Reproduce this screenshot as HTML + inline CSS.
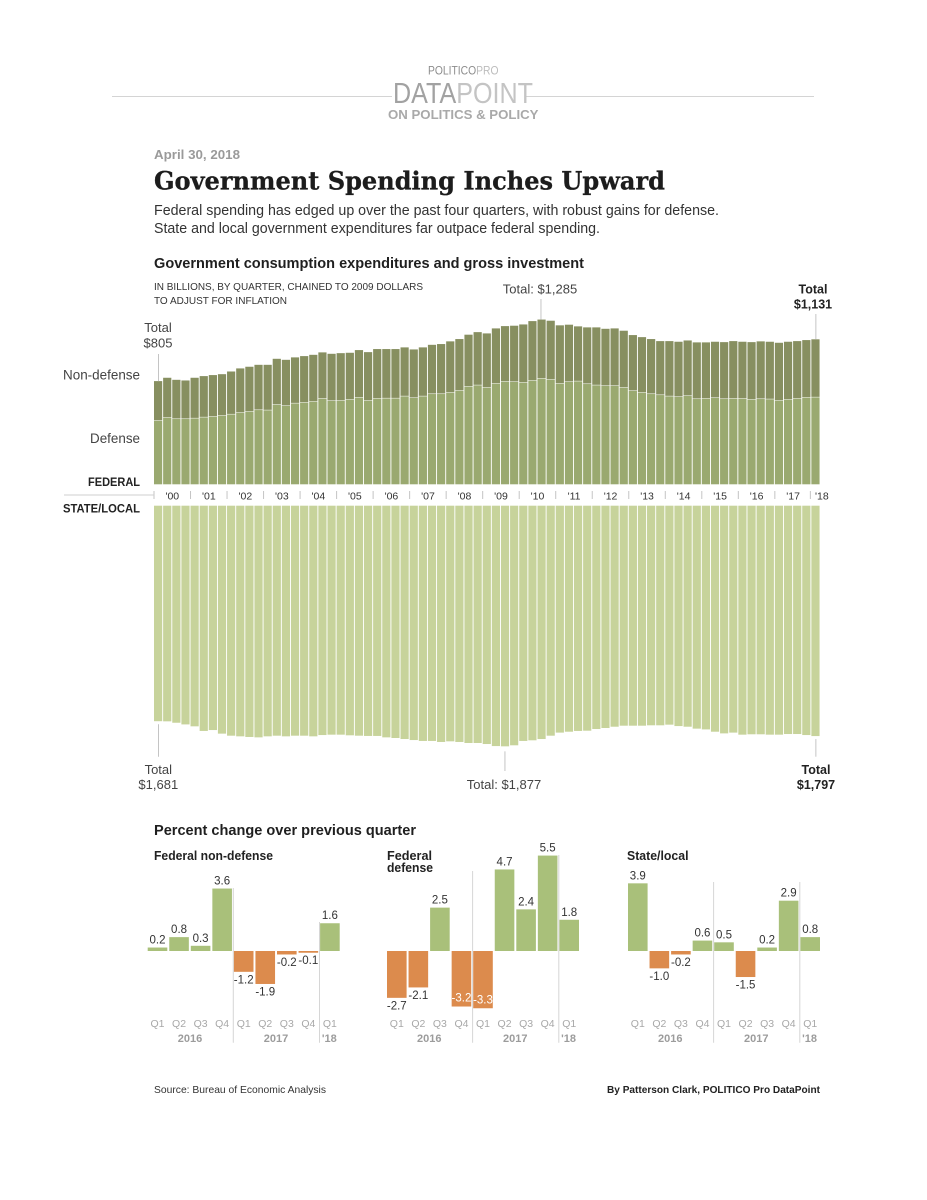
<!DOCTYPE html>
<html lang="en">
<head>
<meta charset="utf-8">
<title>Government Spending Inches Upward</title>
<style>
html,body{margin:0;padding:0;background:#fff;}
svg{display:block;font-family:"Liberation Sans",sans-serif;}
</style>
</head>
<body>
<svg id="page" width="927" height="1200" viewBox="0 0 927 1200" xmlns="http://www.w3.org/2000/svg">
  <rect width="927" height="1200" fill="#fff"/>
  <line x1="112" x2="392" y1="96.5" y2="96.5" stroke="#d4d4d4" stroke-width="1"/>
  <line x1="526" x2="814" y1="96.5" y2="96.5" stroke="#d4d4d4" stroke-width="1"/>
  <text x="428" y="74.5" font-size="12" fill="#8c8c8c" textLength="70.5" lengthAdjust="spacingAndGlyphs">POLITICO<tspan fill="#bcbcbc">PRO</tspan></text>
  <text x="393" y="103" font-size="29" fill="#a2a2a2" textLength="140" lengthAdjust="spacingAndGlyphs">DATA<tspan fill="#c4c4c4">POINT</tspan></text>
  <text x="388" y="119" font-size="12.5" font-weight="bold" fill="#a9a9a9" textLength="150.5" lengthAdjust="spacingAndGlyphs">ON POLITICS &amp; POLICY</text>
  <text x="154" y="159" font-size="13" font-weight="bold" fill="#9a9a9a" textLength="86" lengthAdjust="spacingAndGlyphs">April 30, 2018</text>
  <text x="154" y="189.5" font-family="'DejaVu Serif',serif" font-size="25" font-weight="bold" fill="#1c1c1c" stroke="#1c1c1c" stroke-width="0.3" textLength="511" lengthAdjust="spacingAndGlyphs">Government Spending Inches Upward</text>
  <text x="154" y="215" font-size="14.5" fill="#333" textLength="565" lengthAdjust="spacingAndGlyphs">Federal spending has edged up over the past four quarters, with robust gains for defense.</text>
  <text x="154" y="233" font-size="14.5" fill="#333" textLength="446" lengthAdjust="spacingAndGlyphs">State and local government expenditures far outpace federal spending.</text>
  <text x="154" y="268" font-size="14.5" font-weight="bold" fill="#1f1f1f" textLength="430" lengthAdjust="spacingAndGlyphs">Government consumption expenditures and gross investment</text>
  <text x="154" y="290" font-size="10.5" fill="#333" textLength="269" lengthAdjust="spacingAndGlyphs">IN BILLIONS, BY QUARTER, CHAINED TO 2009 DOLLARS</text>
  <text x="154" y="304" font-size="10.5" fill="#333" textLength="133" lengthAdjust="spacingAndGlyphs">TO ADJUST FOR INFLATION</text>

  <g id="federal-bars"></g>
  <g id="state-bars"></g>
  <g id="year-axis"></g>

  <text x="140" y="379.5" text-anchor="end" font-size="14" fill="#444" textLength="77" lengthAdjust="spacingAndGlyphs">Non-defense</text>
  <text x="140" y="443" text-anchor="end" font-size="14" fill="#444" textLength="50" lengthAdjust="spacingAndGlyphs">Defense</text>
  <text x="140" y="486" text-anchor="end" font-size="11.5" font-weight="bold" fill="#222" textLength="52" lengthAdjust="spacingAndGlyphs">FEDERAL</text>
  <text x="140" y="512.5" text-anchor="end" font-size="11.5" font-weight="bold" fill="#222" textLength="77" lengthAdjust="spacingAndGlyphs">STATE/LOCAL</text>
  <line x1="64" x2="154" y1="495" y2="495" stroke="#cfcfcf" stroke-width="1"/>

  <g id="callouts" font-size="13" fill="#444" text-anchor="middle"></g>

  <text x="154" y="835" font-size="14.5" font-weight="bold" fill="#1f1f1f" textLength="262" lengthAdjust="spacingAndGlyphs">Percent change over previous quarter</text>
  <text x="154" y="860" font-size="12.5" font-weight="bold" fill="#222" textLength="119" lengthAdjust="spacingAndGlyphs">Federal non-defense</text>
  <text x="387" y="860" font-size="12.5" font-weight="bold" fill="#222" textLength="45" lengthAdjust="spacingAndGlyphs">Federal</text>
  <text x="387" y="872" font-size="12.5" font-weight="bold" fill="#222" textLength="46" lengthAdjust="spacingAndGlyphs">defense</text>
  <text x="627" y="860" font-size="12.5" font-weight="bold" fill="#222" textLength="61.5" lengthAdjust="spacingAndGlyphs">State/local</text>

  <g id="change-charts"></g>

  <text x="154" y="1093" font-size="10.5" fill="#333" textLength="172" lengthAdjust="spacingAndGlyphs">Source: Bureau of Economic Analysis</text>
  <text x="820" y="1093" text-anchor="end" font-size="10.5" font-weight="bold" fill="#222" textLength="213" lengthAdjust="spacingAndGlyphs">By Patterson Clark, POLITICO Pro DataPoint</text>
</svg>

<script>
// Main chart data: $ billions, quarterly, 2000 Q1 through 2018 Q1
const federalTotal = [805,831,815,810,831,844,852,859,880,904,917,932,932,979,971,990,1000,1010,1029,1018,1023,1026,1047,1031,1055,1055,1055,1068,1052,1068,1088,1094,1115,1133,1167,1187,1177,1216,1234,1237,1247,1273,1285,1276,1240,1245,1232,1224,1224,1213,1216,1198,1164,1148,1133,1117,1117,1112,1122,1107,1107,1112,1109,1117,1112,1109,1115,1112,1104,1112,1117,1125,1131];
const federalDefense = [500,523,513,513,518,526,531,539,549,562,570,583,581,625,615,635,641,648,672,654,656,664,680,656,672,674,674,690,677,690,708,708,719,734,766,776,758,789,805,802,797,812,828,820,789,802,807,786,776,771,771,758,732,719,708,700,690,685,693,669,672,677,669,672,672,664,669,667,656,664,672,680,682];
const stateLocal = [1681,1682,1693,1706,1721,1757,1750,1778,1794,1799,1804,1807,1799,1794,1799,1794,1794,1799,1789,1786,1786,1791,1794,1796,1796,1807,1812,1820,1828,1835,1835,1843,1838,1843,1851,1851,1859,1875,1877,1869,1835,1830,1820,1794,1770,1763,1757,1755,1742,1734,1724,1716,1716,1716,1713,1713,1708,1719,1724,1739,1745,1763,1776,1770,1786,1783,1783,1786,1786,1781,1781,1789,1797];
const yearLabels = ["'00","'01","'02","'03","'04","'05","'06","'07","'08","'09","'10","'11","'12","'13","'14","'15","'16","'17","'18"];

// Small-multiple data: percent change over previous quarter
const changeQuarters = ["Q1","Q2","Q3","Q4","Q1","Q2","Q3","Q4","Q1"];
const nonDefenseChange = [0.2,0.8,0.3,3.6,-1.2,-1.9,-0.2,-0.1,1.6];
const defenseChange = [-2.7,-2.1,2.5,-3.2,-3.3,4.7,2.4,5.5,1.8];
const stateLocalChange = [3.9,-1.0,-0.2,0.6,0.5,-1.5,0.2,2.9,0.8];

const SVGNS = 'http://www.w3.org/2000/svg';
function mk(parent, tag, attrs, text) {
  const el = document.createElementNS(SVGNS, tag);
  for (const k in attrs) el.setAttribute(k, attrs[k]);
  if (text !== undefined) el.textContent = text;
  parent.appendChild(el);
  return el;
}

// Axis functions
const BAR_LEFT = 154, BAR_STEP = 9.13, BAR_WIDTH = 8.2;
const FED_BASE = 484.3, STATE_TOP = 505.7, DOLLAR_SCALE = 0.1282;
const xQuarter = i => BAR_LEFT + i * BAR_STEP;
const yFederal = v => FED_BASE - v * DOLLAR_SCALE;
const yState = v => STATE_TOP + v * DOLLAR_SCALE;

// Federal and state/local bars
const fedG = document.getElementById('federal-bars');
const stateG = document.getElementById('state-bars');
federalTotal.forEach((total, i) => {
  const x = xQuarter(i), d = federalDefense[i];
  const a = mk(fedG, 'rect', {x: x, y: yFederal(total), width: BAR_WIDTH, height: yFederal(d) - yFederal(total), fill: '#878f60'});
  
  
  const b = mk(fedG, 'rect', {x: x, y: yFederal(d) + 0.5, width: BAR_WIDTH, height: FED_BASE - yFederal(d) - 0.5, fill: '#9aa970'});
  
  
});
stateLocal.forEach((v, i) => {
  const r = mk(stateG, 'rect', {x: xQuarter(i), y: STATE_TOP, width: BAR_WIDTH, height: yState(v) - STATE_TOP, fill: '#c7d39b'});
  
  
});

// Year axis
const axisG = document.getElementById('year-axis');
yearLabels.forEach((label, i) => {
  const tx = xQuarter(i * 4);
  const tickX = i === 18 ? tx - 1 : tx;
  const t = mk(axisG, 'line', {x1: tickX, x2: tickX, y1: 491, y2: 499, stroke: '#c4c4c4', 'stroke-width': 1});
  
  
  const cx = i === 18 ? tx + 10.5 : tx + 18.3;
  const l = mk(axisG, 'text', {x: cx, y: 499.5, 'text-anchor': 'middle', 'font-size': 10.5, fill: '#333'}, label);
  
  
});

// Callouts for notable totals
const calloutG = document.getElementById('callouts');
function callout(name, tickX, y1, y2, lines, textX, bold) {
  const t = mk(calloutG, 'line', {x1: tickX, x2: tickX, y1: y1, y2: y2, stroke: '#c4c4c4', 'stroke-width': 1});
  
  
  lines.forEach(line => {
    const attrs = {x: textX, y: line[1]};
    if (bold) { attrs['font-weight'] = 'bold'; attrs.fill = '#222'; attrs['font-size'] = 12.5; }
    const el = mk(calloutG, 'text', attrs, line[0]);
    
    
  });
}
const first = 0, peak = federalTotal.indexOf(Math.max(...federalTotal)), last = federalTotal.length - 1;
const stPeak = stateLocal.indexOf(Math.max(...stateLocal));
const fmt = v => '$' + v.toLocaleString('en-US');
callout('federal-start-total', xQuarter(first) + 4.5, 354, yFederal(federalTotal[first]), [['Total', 332], [fmt(federalTotal[first]), 347.7]], 158, false);
callout('federal-peak-total', xQuarter(peak) + 3.5, 299, yFederal(federalTotal[peak]), [['Total: ' + fmt(federalTotal[peak]), 293.3]], 540, false);
callout('federal-latest-total', xQuarter(last) + 4.5, 314, yFederal(federalTotal[last]), [['Total', 293.3], [fmt(federalTotal[last]), 308.3]], 813, true);
callout('state-start-total', xQuarter(first) + 4.5, yState(stateLocal[first]) + 3, 756.7, [['Total', 774], [fmt(stateLocal[first]), 789]], 158.3, false);
callout('state-peak-total', xQuarter(stPeak) + 4, yState(stateLocal[stPeak]) + 5, 771, [['Total: ' + fmt(stateLocal[stPeak]), 789]], 504, false);
callout('state-latest-total', xQuarter(last) + 4.5, yState(stateLocal[last]) + 3, 756.7, [['Total', 774], [fmt(stateLocal[last]), 789]], 816, true);

// Percent change small multiples
const changeG = document.getElementById('change-charts');
const ZERO_Y = 951, PCT_SCALE = 17.35, Q_STEP = 21.55, Q_WIDTH = 19.6;
const yPct = v => ZERO_Y - v * PCT_SCALE;
function changeChart(name, values, left, firstDividerTop, secondDividerTop) {
  const g = mk(changeG, 'g', {});
  
  
  [[85.6, firstDividerTop], [171.8, secondDividerTop]].forEach(d => {
    const line = mk(g, 'line', {x1: left + d[0], x2: left + d[0], y1: d[1], y2: 1042.7, stroke: '#d6d6d6', 'stroke-width': 1});
    
    
  });
  values.forEach((v, i) => {
    const x = left + i * Q_STEP, cx = x + Q_WIDTH / 2;
    const top = Math.min(yPct(v), ZERO_Y), h = Math.abs(yPct(v) - ZERO_Y);
    const bar = mk(g, 'rect', {x: x, y: top, width: Q_WIDTH, height: h, fill: v >= 0 ? '#a9c07a' : '#dc8b4d'});
    
    
    const inside = v <= -3;
    const labelY = v >= 0 ? top - 4 : (inside ? top + h - 5 : top + h + 11.5);
    const vl = mk(g, 'text', {x: cx, y: labelY, 'text-anchor': 'middle', 'font-size': 11.5, fill: inside ? '#fff' : '#333'}, v.toFixed(1));
    
    
    const ql = mk(g, 'text', {x: cx, y: 1027, 'text-anchor': 'middle', 'font-size': 10.5, fill: '#a8a8a8'}, changeQuarters[i]);
    
    
  });
  [['2016', 42.3], ['2017', 128.3], ["'18", 181.6]].forEach(y => {
    const yl = mk(g, 'text', {x: left + y[1], y: 1042, 'text-anchor': 'middle', 'font-size': 11, 'font-weight': 'bold', fill: '#9c9c9c'}, y[0]);
    
    
  });
}
changeChart('federal-non-defense-chart', nonDefenseChange, 147.7, 888, 922);
changeChart('federal-defense-chart', defenseChange, 387, 871, 855);
changeChart('state-local-chart', stateLocalChange, 628, 882, 882);
</script>
</body>
</html>
